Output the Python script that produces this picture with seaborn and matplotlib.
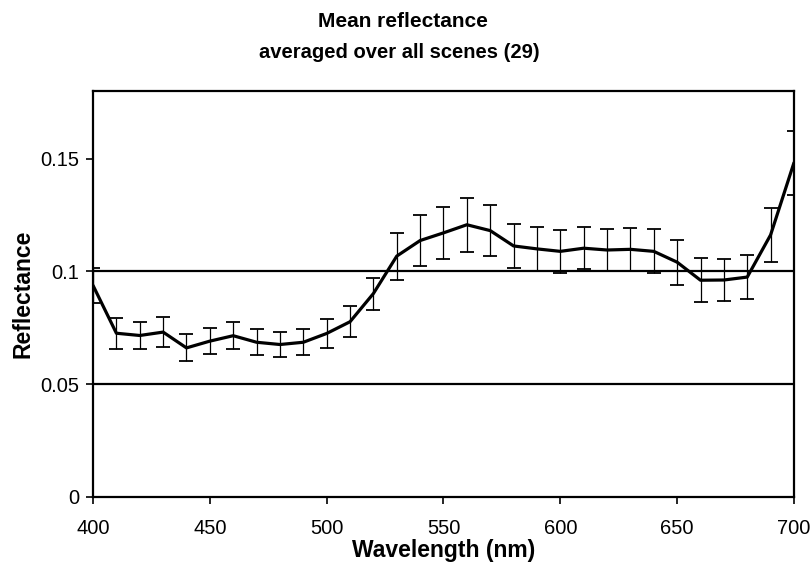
import numpy as np
import pandas as pd
import seaborn as sns
import matplotlib
matplotlib.use("Agg")
import matplotlib.pyplot as plt

wavelength = list(range(400, 701, 10))
reflectance = [0.0938, 0.0726, 0.0716, 0.0731, 0.0661, 0.0691, 0.0715, 0.0686, 0.0676,
               0.0686, 0.0725, 0.0777, 0.0902, 0.1068, 0.1137, 0.1171, 0.1207, 0.1181,
               0.1113, 0.1100, 0.1089, 0.1103, 0.1095, 0.1098, 0.1089, 0.1041, 0.0961,
               0.0962, 0.0975, 0.1162, 0.1482]
error = [0.0076, 0.0069, 0.0061, 0.0068, 0.0060, 0.0057, 0.0060, 0.0058, 0.0056,
         0.0058, 0.0065, 0.0069, 0.0071, 0.0104, 0.0113, 0.0114, 0.0119, 0.0113,
         0.0096, 0.0099, 0.0095, 0.0094, 0.0093, 0.0096, 0.0098, 0.0099, 0.0097,
         0.0095, 0.0099, 0.0121, 0.0141]
ytick_vals = [0, 0.05, 0.1, 0.15]
ytick_labels = ["0", "0.05", "0.1", "0.15"]
xtick_vals = [400, 450, 500, 550, 600, 650, 700]
grid_vals = [0.05, 0.1]

df = pd.DataFrame({"wavelength": wavelength, "reflectance": reflectance, "error": error})

sns.set_theme(style="white")
plt.rcParams["font.family"] = ["Liberation Sans", "DejaVu Sans"]
plt.rcParams["text.color"] = "black"
plt.rcParams["axes.labelcolor"] = "black"
plt.rcParams["xtick.color"] = "black"
plt.rcParams["ytick.color"] = "black"

fig = plt.figure(figsize=(8.11, 5.67), dpi=100)
ax = fig.add_axes([0.1147, 0.1235, 0.8643, 0.716])

for g in grid_vals:
    ax.axhline(g, color="black", lw=1.6, zorder=1)

ax.errorbar(df["wavelength"], df["reflectance"], yerr=df["error"], fmt="none",
            ecolor="black", elinewidth=0.9, capsize=5, capthick=1.3, zorder=2)
sns.lineplot(data=df, x="wavelength", y="reflectance", color="black", lw=2.3,
             ax=ax, zorder=3)

ax.set_xlim(400, 700)
ax.set_ylim(0, 0.18)
ax.set_xticks(xtick_vals)
ax.set_xticklabels([str(v) for v in xtick_vals])
ax.set_yticks(ytick_vals)
ax.set_yticklabels(ytick_labels)
ax.tick_params(axis="both", direction="out", length=5, width=1.2, color="black",
               labelsize=14.5, left=True, bottom=True)
ax.tick_params(axis="x", pad=10.5)
ax.tick_params(axis="y", pad=5)
for s in ax.spines.values():
    s.set_color("black")
    s.set_linewidth(1.6)
ax.set_xlabel("Wavelength (nm)", fontsize=16.5, fontweight="bold", labelpad=1)
ax.set_ylabel("Reflectance", fontsize=16.5, fontweight="bold", labelpad=4)

fig.text(0.497, 0.962, "Mean reflectance", ha="center", va="center",
         fontsize=15, fontweight="bold")
fig.text(0.492, 0.908, "averaged over all scenes (29)", ha="center", va="center",
         fontsize=14.5, fontweight="bold")

fig.savefig("out.png", dpi=100)
